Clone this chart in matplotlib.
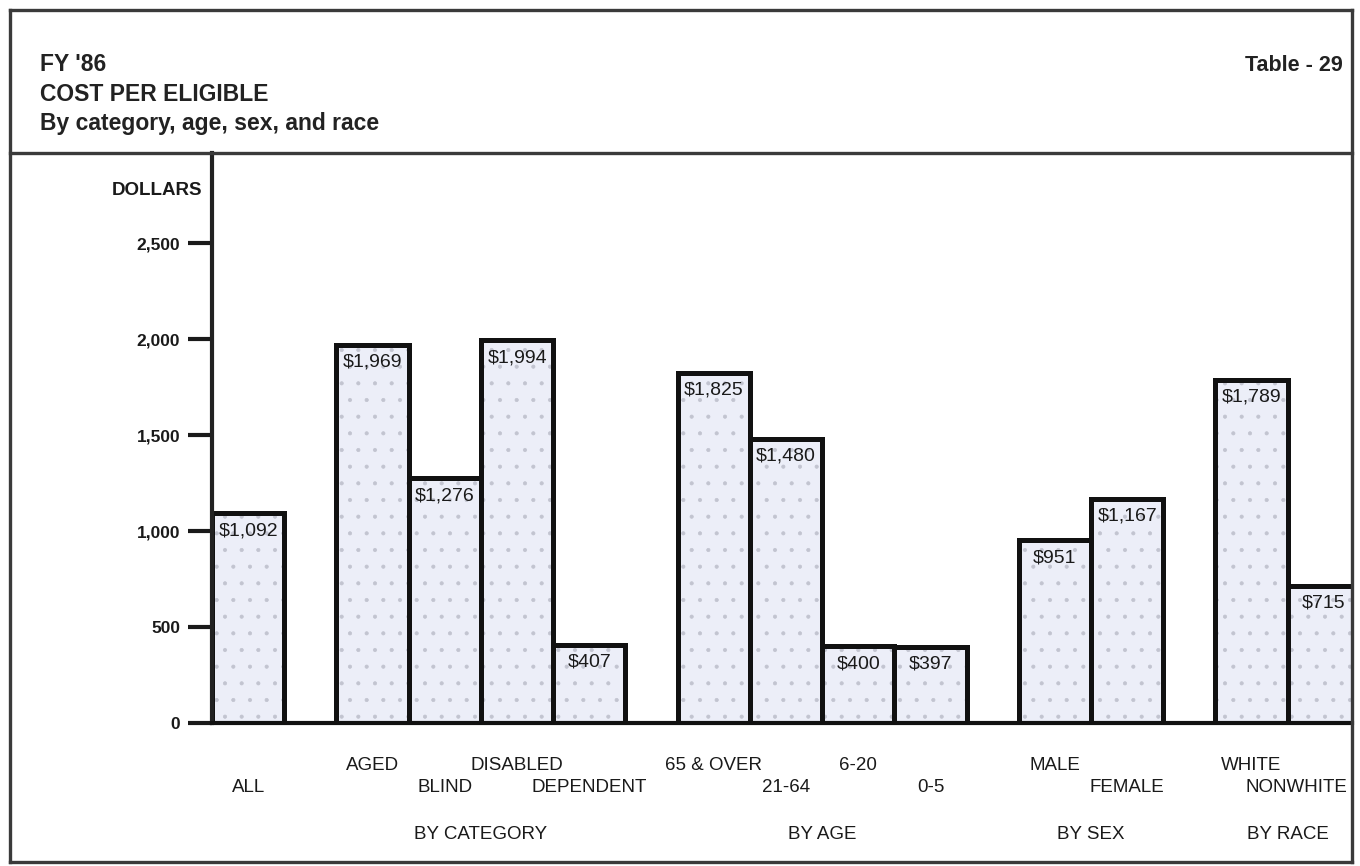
import matplotlib
matplotlib.use("Agg")
import matplotlib.pyplot as plt
from matplotlib.lines import Line2D

plt.rcParams['font.family'] = ['Liberation Sans', 'DejaVu Sans']
plt.rcParams['hatch.color'] = '#c2c4d0'
plt.rcParams['hatch.linewidth'] = 0.5

# cost per eligible, FY '86
groups = ["", "BY CATEGORY", "BY AGE", "BY SEX", "BY RACE"]
labels = [["ALL"],
          ["AGED", "BLIND", "DISABLED", "DEPENDENT"],
          ["65 & OVER", "21-64", "6-20", "0-5"],
          ["MALE", "FEMALE"],
          ["WHITE", "NONWHITE"]]
values = [[1092],
          [1969, 1276, 1994, 407],
          [1825, 1480, 400, 397],
          [951, 1167],
          [1789, 715]]
yticks = [0, 500, 1000, 1500, 2000, 2500]

W, H = 1360, 866
fig = plt.figure(figsize=(W / 100, H / 100), dpi=100)
fig.patch.set_facecolor('white')


def fx(px):
    return px / W


def fy(py):
    return 1 - py / H


ax = fig.add_axes([fx(212), fy(723), fx(1352) - fx(212), fy(153) - fy(723)])

# bar positions: unit-wide bars, groups separated by a gap
gap = 0.72
pos = []
x = 0.5
for gi, grp in enumerate(values):
    xs = []
    for _ in grp:
        xs.append(x)
        x += 1
    pos.append(xs)
    x += gap

fill = '#eceef8'
for gi, grp in enumerate(values):
    xs = pos[gi]
    ax.bar(xs, grp, width=1, color=fill, edgecolor='#c2c4d0', linewidth=0,
           hatch='.', zorder=2)
    ax.bar(xs, grp, width=1, fill=False, edgecolor='#111111', linewidth=3.6,
           zorder=3)
    for xi, v in zip(xs, grp):
        ax.annotate(f"${v:,}", xy=(xi, v), xytext=(0, -9),
                    textcoords='offset pixels', ha='center', va='top',
                    fontsize=14, color='#1a1a1a', zorder=4)

# category labels under the axis, alternating rows
for gi, grp in enumerate(labels):
    xs = pos[gi]
    for i, (xi, lab) in enumerate(zip(xs, grp)):
        lower = (i % 2 == 1) or gi == 0
        off = -69 if lower else -47
        ha = 'center'
        xx = xi
        if gi == len(labels) - 1 and i == len(grp) - 1:
            ha = 'right'
            xx = xi + 0.32
        ax.annotate(lab, xy=(xx, 0), xytext=(0, off),
                    textcoords='offset pixels', ha=ha, va='baseline',
                    fontsize=13.5, color='#1a1a1a', annotation_clip=False)
    if groups[gi]:
        xc = sum(xs) / len(xs)
        ax.annotate(groups[gi], xy=(xc, 0), xytext=(0, -116),
                    textcoords='offset pixels', ha='center', va='baseline',
                    fontsize=13.5, color='#1a1a1a', annotation_clip=False)

ax.set_xlim(0, x - gap - 0.61)
ax.set_ylim(0, 2969)
ax.set_xticks([])
ax.set_yticks(yticks)
ax.set_yticklabels([f"{t:,}" for t in yticks], fontsize=12.5,
                   fontweight='bold', color='#1a1a1a')
ax.tick_params(axis='y', direction='out', length=17, width=3,
               color='#1a1a1a', pad=6)
for s in ['top', 'right']:
    ax.spines[s].set_visible(False)
ax.spines['left'].set_linewidth(3)
ax.spines['left'].set_color('#222222')
ax.spines['bottom'].set_linewidth(3)
ax.spines['bottom'].set_color('#111111')
ax.spines['bottom'].set_zorder(5)
ax.spines['left'].set_zorder(5)

fig.text(fx(202), fy(195), "DOLLARS", ha='right', va='baseline',
         fontsize=13.5, fontweight='bold', color='#1a1a1a')

# header
tkw = dict(fontweight='bold', color='#222222', va='baseline')
fig.text(fx(40), fy(71), "FY '86", ha='left', fontsize=16.5, **tkw)
fig.text(fx(40), fy(101), "COST PER ELIGIBLE", ha='left', fontsize=16.5, **tkw)
fig.text(fx(40), fy(130), "By category, age, sex, and race", ha='left',
         fontsize=16.5, **tkw)
fig.text(fx(1343), fy(71), "Table - 29", ha='right', fontsize=15.5, **tkw)

# outer frame and header separator
frame = '#3a3a3a'
for (x0, y0, x1, y1) in [(10, 10, 1352, 10), (10, 862, 1352, 862),
                         (10, 10, 10, 862), (1352, 10, 1352, 862),
                         (10, 153, 1352, 153)]:
    fig.add_artist(Line2D([fx(x0), fx(x1)], [fy(y0), fy(y1)],
                          color=frame, linewidth=2.4,
                          solid_capstyle='projecting'))

fig.savefig("out.png", dpi=100, facecolor='white')
